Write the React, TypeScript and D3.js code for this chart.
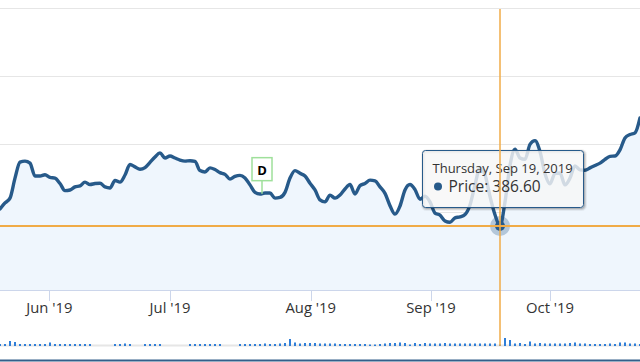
import React from 'react'
import * as d3 from 'd3'

const W = 640
const H = 362

// closing price, one sample per ~trading day across the visible window
const prices = [
  391.6, 393.4, 394.8, 400.7, 405.4, 405.7, 405.1, 401.3, 401.3, 401.7,
  400.9, 400.7, 399.1, 397.0, 397.2, 398.1, 398.4, 399.5, 398.8, 399.1,
  399.2, 398.1, 397.8, 400.0, 399.5, 401.6, 404.7, 404.0, 403.3, 403.8,
  405.3, 406.9, 408.1, 406.6, 407.2, 406.6, 406.0, 405.7, 405.8, 405.6,
  402.9, 402.5, 403.7, 403.2, 402.3, 401.8, 400.4, 401.2, 401.5, 400.7,
  398.7, 396.5, 396.0, 396.3, 396.3, 394.8, 395.0, 396.5, 400.7, 402.9,
  402.1, 401.3, 399.2, 397.2, 394.3, 393.7, 395.7, 394.8, 395.7, 397.5,
  398.8, 396.0, 398.5, 399.1, 400.1, 399.9, 398.1, 396.2, 392.6, 390.1,
  392.5, 397.2, 398.8, 397.3, 394.5, 395.4, 393.7, 390.4, 389.8, 388.1,
  387.7, 389.0, 389.3, 390.0, 392.8, 398.7, 403.7, 401.7, 395.3, 389.9,
  386.6, 393.7, 404.4, 409.2, 406.6, 406.2, 410.6, 411.7, 408.5, 402.0,
  399.0, 402.1, 402.2, 398.7, 400.7, 404.3, 403.1, 403.0, 403.7, 404.4,
  405.1, 406.2, 407.1, 407.2, 409.0, 412.5, 413.5, 414.0, 418.4,
]

// volume (relative units), same samples; 0 = no bar
const volumes = [
  2, 2, 5, 4, 2, 2, 2, 2, 2, 2,
  3.5, 2, 2, 2, 2, 2, 2, 2, 2, 0,
  0, 0, 0, 2, 2, 2.5, 2, 0, 0, 2,
  2, 2, 2, 0, 0, 0, 0, 0, 2, 2,
  2, 2, 2, 2, 2, 0, 0, 0, 2, 2,
  2, 2, 2, 2.5, 2, 2, 2.5, 3, 7, 3.5,
  2.5, 3, 3, 3, 2.5, 2.5, 2.5, 2.5, 2, 2,
  2, 2, 2, 2, 1.5, 1.5, 2, 2.5, 3, 3,
  3.5, 3, 1.5, 3, 2, 3, 2.5, 2.5, 2.5, 3,
  2.5, 2.5, 2.5, 2.5, 2.5, 2.5, 2.5, 2.5, 2.5, 2.5,
  1.5, 8, 6, 2.5, 3, 2, 4.5, 2.5, 3, 2.5,
  2.5, 2.5, 2.5, 2.5, 3, 3.5, 2.5, 2.5, 2, 2,
  2, 2, 2.5, 2, 3.5, 3.5, 2.5, 2.5, 2,
]

const monthTicks = [9.86, 34, 62.14, 86.2, 110]
const monthLabels = ["Jun '19", "Jul '19", "Aug '19", "Sep '19", "Oct '19"]
const priceGrid = [450.7, 430.7, 410.7, 390.7, 370.7]

const hoverIndex = 100
const hoverDate = 'Thursday, Sep 19, 2019'
const flagIndex = 52.4
const flagTitle = 'D'

const lineColor = '#275a8a'
const crossColor = '#f0ab47'
const font = "'Open Sans', sans-serif"

const App = () => {
  const x = d3.scaleLinear().domain([0, prices.length - 1]).range([0, W])
  const y = d3.scaleLinear().domain([367.8, 450.7]).range([290, 8])
  const vol = d3.scaleLinear().domain([0, 10]).range([346, 336])

  const line = d3
    .line<number>()
    .x((d, i) => x(i))
    .y((d) => y(d))
    .curve(d3.curveMonotoneX)

  const area = d3
    .area<number>()
    .x((d, i) => x(i))
    .y0(y(367.8))
    .y1((d) => y(d))
    .curve(d3.curveMonotoneX)

  // hovered point
  const px = x(hoverIndex)
  const py = y(prices[hoverIndex])

  // flag sits on the line between two samples
  const fi = Math.floor(flagIndex)
  const flagPrice = prices[fi] + (flagIndex - fi) * (prices[fi + 1] - prices[fi])
  const fx = x(flagIndex)
  const fy = y(flagPrice)

  // tooltip box
  const tipW = 161
  const tipH = 57
  const tipX = Math.round(px - 78.5) + 0.5
  const tipY = Math.round(py - 19 - tipH) + 0.5

  return (
    <svg
      width={W}
      height={H}
      style={{ position: 'absolute', left: 0, top: 0, background: '#fff' }}
      fontFamily={font}
    >
      {/* grid */}
      {priceGrid.map((g) => (
        <line key={g} x1={0} x2={W} y1={Math.round(y(g)) + 0.5} y2={Math.round(y(g)) + 0.5} stroke='#e6e6e6' />
      ))}

      {/* price area + line */}
      <path d={area(prices) || ''} fill='#eff6fd' />
      <path d={line(prices) || ''} fill='none' stroke={lineColor} strokeWidth={3.4} strokeLinejoin='round' strokeLinecap='round' />

      {/* x axis */}
      <line x1={0} x2={W} y1={290.5} y2={290.5} stroke='#ccd6eb' />
      {monthTicks.map((t, i) => (
        <g key={t}>
          <line x1={Math.round(x(t)) + 0.5} x2={Math.round(x(t)) + 0.5} y1={290} y2={301} stroke='#ccd6eb' />
          <text x={x(t)} y={313} textAnchor='middle' fontSize={14.8} fill='#333'>
            {monthLabels[i]}
          </text>
        </g>
      ))}

      {/* volume */}
      <rect x={0} y={344.5} width={W} height={2} fill='#e6e6e6' />
      {volumes.map((v, i) =>
        v > 0 ? (
          <rect key={i} x={x(i) - 1} y={vol(v)} width={2} height={vol(0) - vol(v)} fill='#2f7ed8' />
        ) : null
      )}
      <line x1={0} x2={W} y1={360.5} y2={360.5} stroke='#335f8a' strokeWidth={2} />

      {/* flag */}
      <line x1={fx} x2={fx} y1={fy - 13} y2={fy} stroke='#9fe09b' strokeWidth={1.5} />
      <rect x={fx - 10} y={fy - 36} width={20} height={23} fill='#fff' stroke='#9fe09b' strokeWidth={1.5} />
      <text x={fx} y={fy - 19} textAnchor='middle' fontSize={13} fontWeight='bold' fill='#000'>
        {flagTitle}
      </text>

      {/* hover marker */}
      <circle cx={px} cy={py} r={10} fill={lineColor} opacity={0.3} />
      <circle cx={px} cy={py} r={5} fill={lineColor} />

      {/* tooltip */}
      <g>
        {[5, 3, 1].map((sw, i) => (
          <rect
            key={sw}
            x={tipX + 1}
            y={tipY + 1}
            width={tipW}
            height={tipH}
            rx={3}
            fill='none'
            stroke='#000'
            strokeOpacity={0.05 * (i + 1)}
            strokeWidth={sw}
          />
        ))}
        <rect x={tipX} y={tipY} width={tipW} height={tipH} rx={3} fill='rgba(247,247,247,0.82)' stroke={lineColor} />
        <text x={tipX + 10} y={tipY + 22} fontSize={13} fill='#333'>
          {hoverDate}
        </text>
        <circle cx={tipX + 15.5} cy={tipY + 36} r={4} fill={lineColor} />
        <text x={tipX + 26} y={tipY + 41} fontSize={15.5} fill='#333'>
          {'Price: ' + prices[hoverIndex].toFixed(2)}
        </text>
      </g>

      {/* crosshairs */}
      <line x1={0} x2={W} y1={py} y2={py} stroke={crossColor} strokeWidth={2} />
      <line x1={px} x2={px} y1={9} y2={346} stroke={crossColor} strokeWidth={1.5} />
    </svg>
  )
}

export default App
